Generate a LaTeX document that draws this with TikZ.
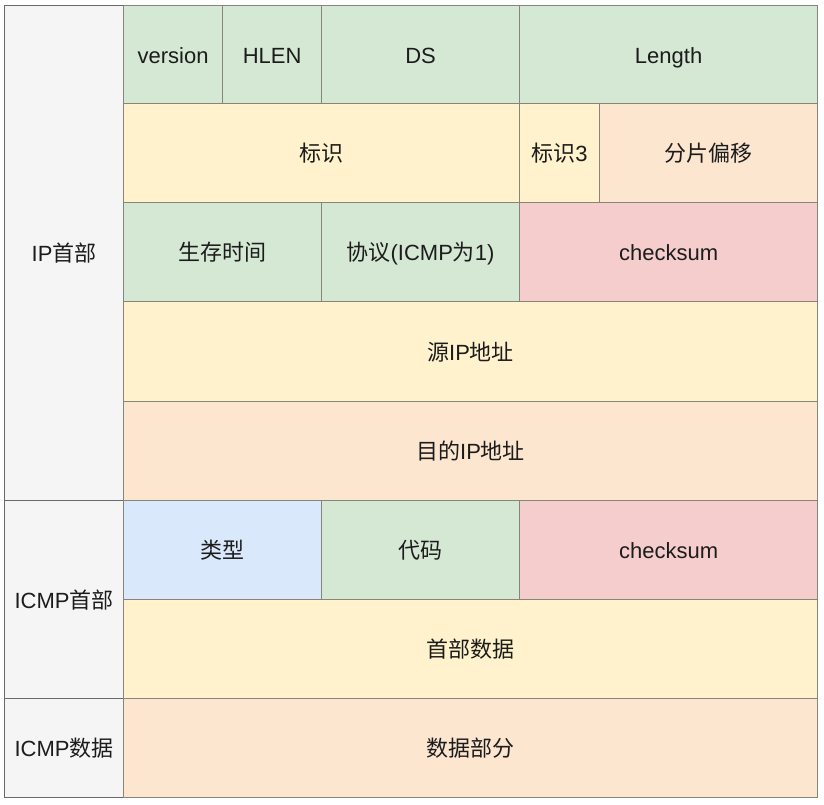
\documentclass[tikz,border=0pt]{standalone}
\usepackage{fontspec}
\setmainfont{Liberation Sans}
\newfontfamily\cjk{Noto Sans CJK SC}
\definecolor{txt}{HTML}{1C1C1C}
\definecolor{gfill}{HTML}{D5E8D4}
\definecolor{yfill}{HTML}{FFF2CC}
\definecolor{ofill}{HTML}{FCE6CF}
\definecolor{rfill}{HTML}{F4CDCC}
\definecolor{bfill}{HTML}{DAE8FC}
\definecolor{sfill}{HTML}{F5F5F5}
\definecolor{edge}{HTML}{85857A}
\definecolor{sedge}{HTML}{6A6A6A}
\tikzset{
  cell/.style={draw=edge, line width=1.2pt, anchor=north west, inner sep=0pt,
    text height=18pt, text depth=1pt,
    font=\fontsize{22}{26}\selectfont, text=txt},
  green/.style={cell, fill=gfill},
  yellow/.style={cell, fill=yfill},
  orange/.style={cell, fill=ofill},
  red/.style={cell, fill=rfill},
  blue/.style={cell, fill=bfill},
  side/.style={cell, fill=sfill, draw=sedge},
}
\newcommand{\cellat}[6]{% style, name, x0, y0, x1, y1 ; text follows
  \node[#1, minimum width={#5-#3}, minimum height={#6-#4}] (#2) at (#3,#4)}
\begin{document}
\begin{tikzpicture}[x=1pt,y=-1pt]
\useasboundingbox (0,0) rectangle (824,804);
\fill[white] (0,0) rectangle (824,804);
% group labels on the left
\cellat{side}{iphdr}{4}{5}{123}{500} {IP{\cjk 首部}};
\cellat{side}{icmphdr}{4}{500}{123}{698} {ICMP{\cjk 首部}};
\cellat{side}{icmpdata}{4}{698}{123}{797} {ICMP{\cjk 数据}};
% IP header, row 1
\cellat{green}{ver}{123}{5}{222}{103} {version};
\cellat{green}{hlen}{222}{5}{321}{103} {HLEN};
\cellat{green}{ds}{321}{5}{519}{103} {DS};
\cellat{green}{len}{519}{5}{817}{103} {Length};
% row 2
\cellat{yellow}{ident}{123}{103}{519}{202} {\cjk 标识};
\cellat{yellow}{flags}{519}{103}{599}{202} {{\cjk 标识}3};
\cellat{orange}{frag}{599}{103}{817}{202} {\cjk 分片偏移};
% row 3
\cellat{green}{ttl}{123}{202}{321}{301} {\cjk 生存时间};
\cellat{green}{proto}{321}{202}{519}{301} {{\cjk 协议}(ICMP{\cjk 为}1)};
\cellat{red}{ipsum}{519}{202}{817}{301} {checksum};
% addresses
\cellat{yellow}{src}{123}{301}{817}{401} {{\cjk 源}IP{\cjk 地址}};
\cellat{orange}{dst}{123}{401}{817}{500} {{\cjk 目的}IP{\cjk 地址}};
% ICMP header
\cellat{blue}{type}{123}{500}{321}{599} {\cjk 类型};
\cellat{green}{code}{321}{500}{519}{599} {\cjk 代码};
\cellat{red}{icmpsum}{519}{500}{817}{599} {checksum};
\cellat{yellow}{hdrdata}{123}{599}{817}{698} {\cjk 首部数据};
% ICMP payload
\cellat{orange}{payload}{123}{698}{817}{797} {\cjk 数据部分};
\end{tikzpicture}
\end{document}
